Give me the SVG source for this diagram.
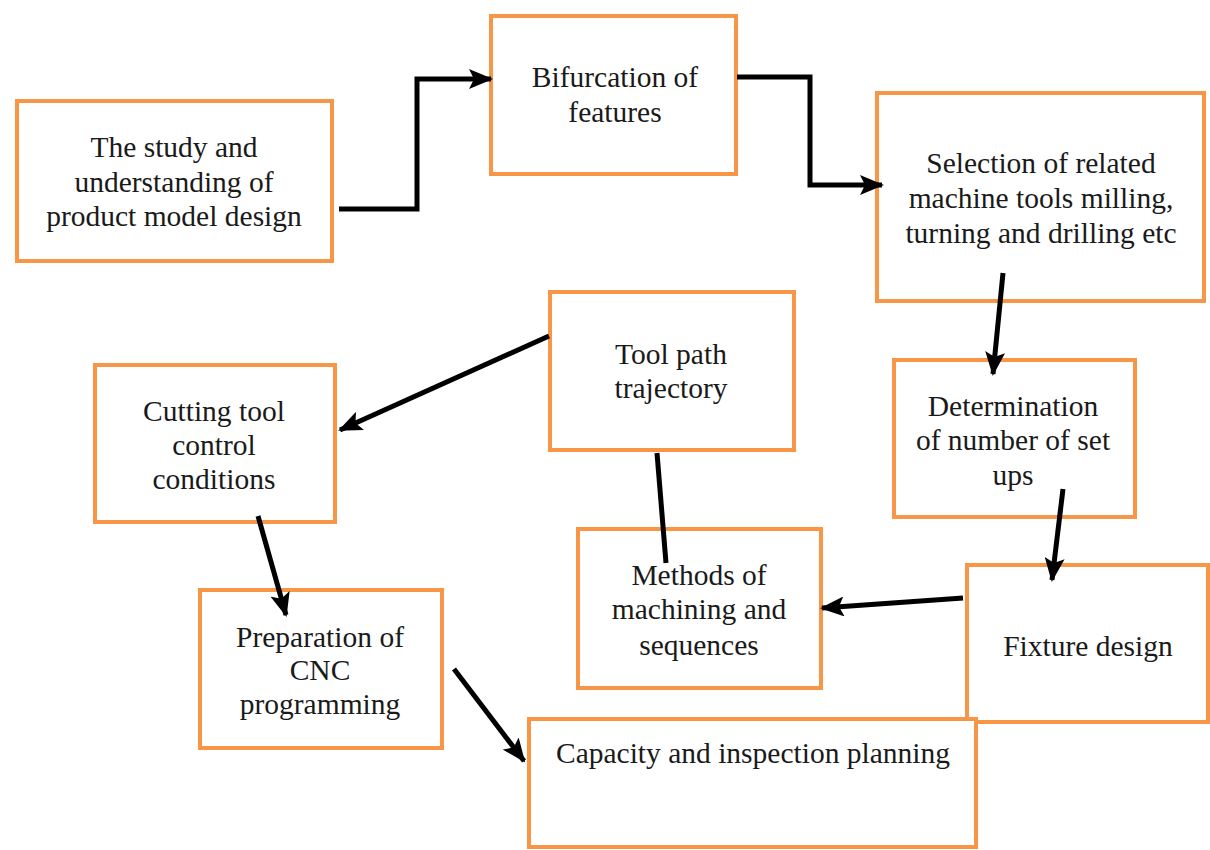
<svg xmlns="http://www.w3.org/2000/svg" width="1210" height="850" viewBox="0 0 1210 850">
<style>
.box{fill:#fff;stroke:#F79646;stroke-width:4}
.t{font-family:"Liberation Serif","Times New Roman",serif;font-size:29.5px;fill:#1a1a1a;text-anchor:middle}
.c{fill:none;stroke:#000;stroke-width:5}
</style>
<defs>
<marker id="ah" markerUnits="userSpaceOnUse" markerWidth="24" markerHeight="20" refX="22" refY="10" orient="auto">
<path d="M0,0 L24,10 L0,20 L5,10 Z" fill="#000"/>
</marker>
</defs>
<rect width="1210" height="850" fill="#fff"/>
<g id="n1"><rect class="box" x="17" y="101" width="315" height="160"/>
<text class="t" x="174" y="157">The study and</text><text class="t" x="174" y="192">understanding of</text><text class="t" x="174" y="226">product model design</text></g>
<g id="n2"><rect class="box" x="491" y="16" width="245" height="158"/>
<text class="t" x="615" y="87">Bifurcation of</text><text class="t" x="615" y="122">features</text></g>
<g id="n3"><rect class="box" x="877" y="93" width="327" height="208"/>
<text class="t" x="1041" y="173">Selection of related</text><text class="t" x="1041" y="208">machine tools milling,</text><text class="t" x="1041" y="243">turning and drilling etc</text></g>
<g id="n4"><rect class="box" x="550" y="292" width="244" height="158"/>
<text class="t" x="671" y="364">Tool path</text><text class="t" x="671" y="398">trajectory</text></g>
<g id="n5"><rect class="box" x="95" y="365" width="240" height="157"/>
<text class="t" x="214" y="421">Cutting tool</text><text class="t" x="214" y="455">control</text><text class="t" x="214" y="489">conditions</text></g>
<g id="n6"><rect class="box" x="894" y="360" width="241" height="157"/>
<text class="t" x="1013" y="416">Determination</text><text class="t" x="1013" y="450">of number of set</text><text class="t" x="1013" y="485">ups</text></g>
<g id="n7"><rect class="box" x="578" y="529" width="243" height="159"/>
<text class="t" x="699" y="585">Methods of</text><text class="t" x="699" y="619">machining and</text><text class="t" x="699" y="655">sequences</text></g>
<g id="n8"><rect class="box" x="967" y="565" width="241" height="157"/>
<text class="t" x="1088" y="656">Fixture design</text></g>
<g id="n9"><rect class="box" x="200" y="590" width="242" height="158"/>
<text class="t" x="320" y="647">Preparation of</text><text class="t" x="320" y="680">CNC</text><text class="t" x="320" y="714">programming</text></g>
<g id="n10"><rect class="box" x="529" y="719" width="447" height="128"/>
<text class="t" x="753" y="763">Capacity and inspection planning</text></g>
<g id="connectors">
<polyline class="c" points="339,209 417,209 417,79 491,79" marker-end="url(#ah)"/>
<polyline class="c" points="737,77 810,77 810,185 882,185" marker-end="url(#ah)"/>
<line class="c" x1="1003" y1="273" x2="993" y2="374" marker-end="url(#ah)"/>
<line class="c" x1="549" y1="336" x2="340" y2="430" marker-end="url(#ah)"/>
<line class="c" x1="1063" y1="489" x2="1052" y2="580" marker-end="url(#ah)"/>
<line class="c" x1="963" y1="598" x2="822" y2="608" marker-end="url(#ah)"/>
<line class="c" x1="258" y1="516" x2="286" y2="615" marker-end="url(#ah)"/>
<line class="c" x1="454" y1="669" x2="524" y2="761" marker-end="url(#ah)"/>
<line class="c" x1="657" y1="453" x2="666" y2="563"/>
</g>
</svg>
